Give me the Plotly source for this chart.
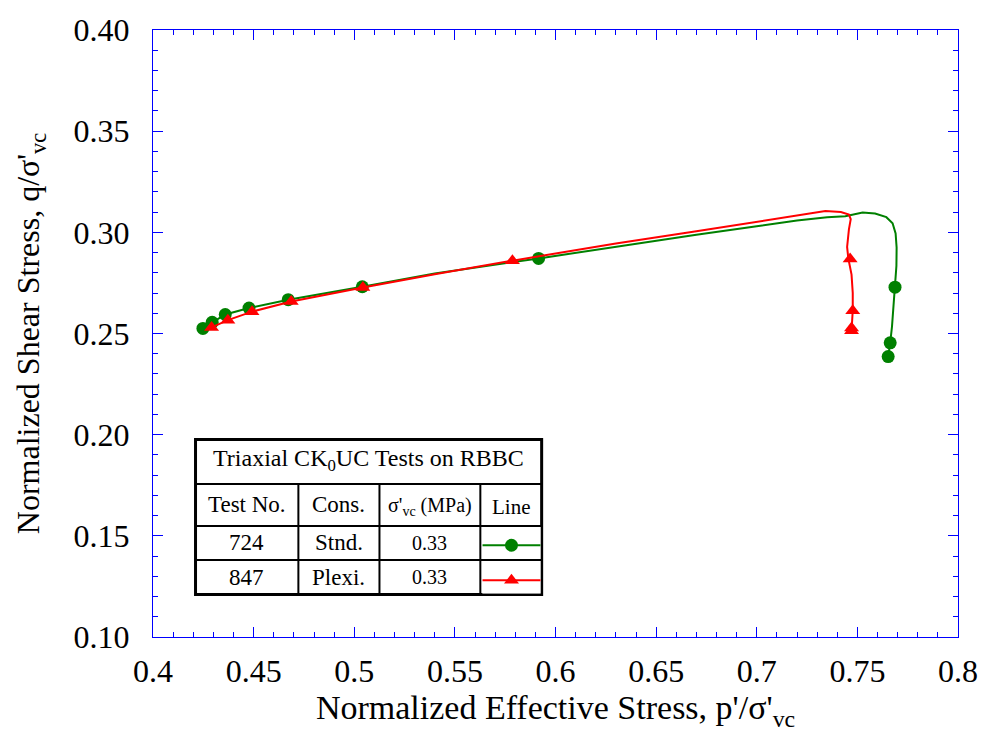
import plotly.graph_objects as go

# ---------------- data ----------------
# Test 724 (Stnd.) effective stress path: line and markers
g_line_x = [0.4248, 0.4294, 0.4359, 0.4477, 0.4672, 0.5040, 0.5400, 0.5916, 0.6300, 0.6700,
            0.7000, 0.7200, 0.7350, 0.7440, 0.7526, 0.7588, 0.7644, 0.7675, 0.7690, 0.7695,
            0.7694, 0.7687, 0.7681, 0.7672, 0.7663, 0.7653]
g_line_y = [0.2525, 0.2555, 0.2594, 0.2626, 0.2667, 0.2731, 0.2797, 0.2871, 0.2930, 0.2988,
            0.3030, 0.3058, 0.3074, 0.3080, 0.3098, 0.3093, 0.3075, 0.3045, 0.2995, 0.2925,
            0.2835, 0.2729, 0.2626, 0.2534, 0.2454, 0.2386]
g_mark_x = [0.4248, 0.4294, 0.4359, 0.4477, 0.4672, 0.5040, 0.5916, 0.7687, 0.7663, 0.7653]
g_mark_y = [0.2525, 0.2555, 0.2594, 0.2626, 0.2667, 0.2731, 0.2871, 0.2729, 0.2454, 0.2386]

# Test 847 (Plexi.) effective stress path: line and markers
r_line_x = [0.4291, 0.4372, 0.4492, 0.4687, 0.5043, 0.5400, 0.5786, 0.6300, 0.6700, 0.7000,
            0.7200, 0.7341, 0.7418, 0.7458, 0.7467, 0.7458, 0.7449, 0.7455, 0.7471, 0.7477,
            0.7477, 0.7474, 0.7471]
r_line_y = [0.2530, 0.2566, 0.2608, 0.2658, 0.2727, 0.2793, 0.2860, 0.2945, 0.3005, 0.3052,
            0.3085, 0.3105, 0.3100, 0.3088, 0.3065, 0.3015, 0.2928, 0.2871, 0.2791, 0.2700,
            0.2615, 0.2557, 0.2513]
r_mark_x = [0.4291, 0.4372, 0.4492, 0.4687, 0.5043, 0.5786, 0.7464, 0.7477, 0.7471, 0.7471]
r_mark_y = [0.2530, 0.2566, 0.2608, 0.2658, 0.2727, 0.2860, 0.2868, 0.2612, 0.2527, 0.2513]

x_ticks = [0.4, 0.45, 0.5, 0.55, 0.6, 0.65, 0.7, 0.75, 0.8]
x_tick_text = ["0.4", "0.45", "0.5", "0.55", "0.6", "0.65", "0.7", "0.75", "0.8"]
y_ticks = [0.10, 0.15, 0.20, 0.25, 0.30, 0.35, 0.40]
y_tick_text = ["0.10", "0.15", "0.20", "0.25", "0.30", "0.35", "0.40"]

table_title = "Triaxial CK<sub>0</sub>UC Tests on RBBC"
table_header = ["Test No.", "Cons.", "σ'<sub>vc</sub> (MPa)", "Line"]
test_no = ["724", "847"]
cons = ["Stnd.", "Plexi."]
sigma_vc = ["0.33", "0.33"]
sample_x = [0, 0.5, 1]

GREEN = "#008000"
RED = "#ff0000"
BLUE = "#0000ff"
FONT = "Liberation Serif, Times New Roman, serif"

# ---------------- layout geometry (pixels) ----------------
W, H = 990, 736
L, R, T, B = 153, 967, 22, 637


def px(xp):
    return (xp - L) / (R - L)


def py(yp):
    return (B - yp) / (B - T)


fig = go.Figure()

fig.add_trace(go.Scatter(x=g_line_x, y=g_line_y, mode="lines",
                         line=dict(color=GREEN, width=2), showlegend=False, hoverinfo="skip"))
fig.add_trace(go.Scatter(x=g_mark_x, y=g_mark_y, mode="markers",
                         marker=dict(color=GREEN, size=13, symbol="circle"), showlegend=False))
fig.add_trace(go.Scatter(x=r_line_x, y=r_line_y, mode="lines",
                         line=dict(color=RED, width=2), showlegend=False, hoverinfo="skip"))
fig.add_trace(go.Scatter(x=r_mark_x, y=r_mark_y, mode="markers",
                         marker=dict(color=RED, size=13, symbol="triangle-up"), showlegend=False))

# legend samples in the table's "Line" column (own invisible axes)
fig.add_trace(go.Scatter(x=sample_x, y=[1.45] * 3, mode="lines", line=dict(color=GREEN, width=2),
                         xaxis="x2", yaxis="y2", showlegend=False, hoverinfo="skip"))
fig.add_trace(go.Scatter(x=[sample_x[1]], y=[1.45], mode="markers",
                         marker=dict(color=GREEN, size=13, symbol="circle"),
                         xaxis="x2", yaxis="y2", showlegend=False, hoverinfo="skip"))
fig.add_trace(go.Scatter(x=sample_x, y=[0.4] * 3, mode="lines", line=dict(color=RED, width=2),
                         xaxis="x2", yaxis="y2", showlegend=False, hoverinfo="skip"))
fig.add_trace(go.Scatter(x=[sample_x[1]], y=[0.4], mode="markers",
                         marker=dict(color=RED, size=13, symbol="triangle-up"),
                         xaxis="x2", yaxis="y2", showlegend=False, hoverinfo="skip"))

# ---------------- table ----------------
tl, tr, tt, tb = 196, 546, 437, 594
h1, h2, h3 = 482, 524.5, 559
v1, v2, v3 = 300, 382, 484

shapes = [dict(type="rect", xref="paper", yref="paper", x0=px(tl), x1=px(tr), y0=py(tb), y1=py(tt),
               line=dict(color="black", width=3), fillcolor="white", layer="below")]
for hy in (h1, h2, h3):
    shapes.append(dict(type="line", xref="paper", yref="paper", x0=px(tl), x1=px(tr), y0=py(hy), y1=py(hy),
                       line=dict(color="black", width=2)))
for vx in (v1, v2, v3):
    shapes.append(dict(type="line", xref="paper", yref="paper", x0=px(vx), x1=px(vx), y0=py(tb), y1=py(h1),
                       line=dict(color="black", width=2)))

annotations = []


def add_text(text, xc, yc, size):
    annotations.append(dict(text=text, x=px(xc), y=py(yc), xref="paper", yref="paper",
                            xanchor="center", yanchor="middle", showarrow=False,
                            font=dict(family=FONT, size=size, color="black")))


add_text(table_title, (tl + tr) / 2, 458, 24)
cols = [(tl + v1) / 2, (v1 + v2) / 2, (v2 + v3) / 2, (v3 + tr) / 2]
hdr_sizes = [23, 23, 20, 21]
for txt, xc, s in zip(table_header, cols, hdr_sizes):
    add_text(txt, xc, (h1 + h2) / 2 + (2 if s < 23 else 0), s)
rows_y = [(h2 + h3) / 2, (h3 + tb) / 2]
for i in range(2):
    add_text(test_no[i], cols[0], rows_y[i], 23)
    add_text(cons[i], cols[1], rows_y[i], 23)
    add_text(sigma_vc[i], cols[2], rows_y[i], 20)

axis_common = dict(
    showgrid=False, zeroline=False, showline=True, linecolor=BLUE, linewidth=1,
    mirror="allticks", ticks="inside", ticklen=10, tickcolor=BLUE, tickwidth=1,
    tickfont=dict(family=FONT, size=32, color="black"),
)

fig.update_layout(
    width=W, height=H,
    margin=dict(l=L, r=W - R, t=T, b=H - B, pad=0),
    plot_bgcolor="white", paper_bgcolor="white",
    font=dict(family=FONT, color="black"),
    shapes=shapes, annotations=annotations,
    xaxis=dict(range=[0.4, 0.8], tickvals=x_ticks, ticktext=x_tick_text,
               minor=dict(dtick=0.01, tick0=0.4, ticks="inside", ticklen=5, tickcolor=BLUE, tickwidth=1),
               ticklabelstandoff=6,
               title=dict(text="Normalized Effective Stress, p'/σ'<sub>vc</sub>",
                          font=dict(family=FONT, size=34, color="black"), standoff=6),
               **axis_common),
    yaxis=dict(range=[0.10, 0.40], tickvals=y_ticks, ticktext=y_tick_text,
               minor=dict(dtick=0.01, tick0=0.1, ticks="inside", ticklen=5, tickcolor=BLUE, tickwidth=1),
               ticklabelstandoff=16,
               title=dict(text="Normalized Shear Stress, q/σ'<sub>vc</sub>",
                          font=dict(family=FONT, size=32, color="black"), standoff=24),
               **axis_common),
    xaxis2=dict(domain=[px(486), px(545)], range=[0, 1], visible=False, anchor="y2", fixedrange=True),
    yaxis2=dict(domain=[py(tb - 1), py(h2 + 1)], range=[0, 2], visible=False, anchor="x2", fixedrange=True),
)

fig.write_html("out.html")
